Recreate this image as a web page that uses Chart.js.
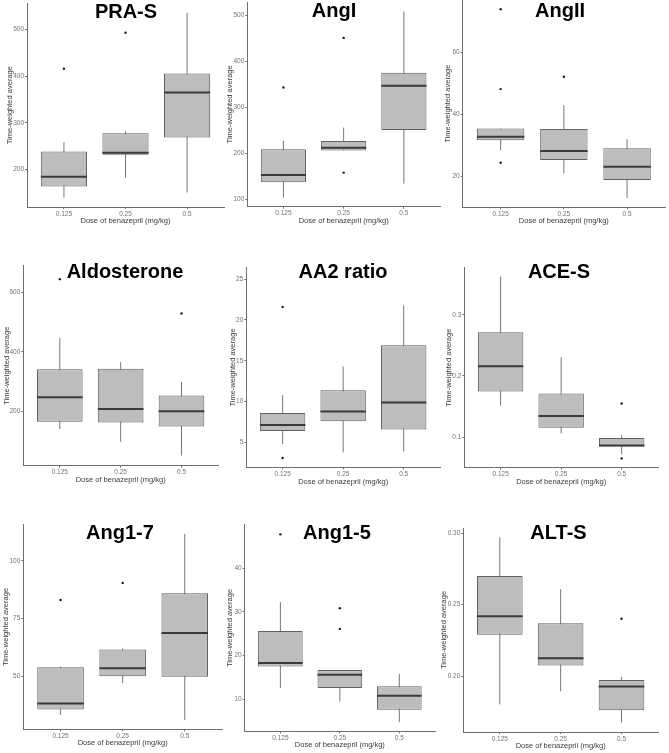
<!DOCTYPE html>
<html><head><meta charset="utf-8">
<script src="https://cdn.jsdelivr.net/npm/chart.js@4"></script>
<style>
html,body{margin:0;padding:0;background:#fff;}
body{width:669px;height:753px;position:relative;overflow:hidden;}
canvas{position:absolute;}
</style></head><body>
<script>
// ---------------- DATA ----------------
const doseLabels = ['0.125', '0.25', '0.5'];
const panelNames = ['PRA-S', 'AngI', 'AngII', 'Aldosterone', 'AA2 ratio', 'ACE-S', 'Ang1-7', 'Ang1-5', 'ALT-S'];

const whiskerLow = [
  [140, 183, 151], [104, 206, 134], [28.4, 21, 13],
  [142, 99, 53], [4.8, 3.8, 3.9], [0.1516, 0.106, 0.0717],
  [33.3, 47.1, 31.2], [12.6, 9.5, 4.8], [0.1803, 0.1894, 0.1675]
];
const q1 = [
  [164, 232, 269], [137, 206, 251], [31.7, 25.3, 18.8],
  [166, 163.5, 150], [6.4, 7.6, 6.6], [0.1745, 0.1152, 0.0848],
  [35.7, 50.1, 49.9], [17.5, 12.6, 7.6], [0.2289, 0.2074, 0.1762]
];
const median = [
  [185, 236, 365], [153, 212, 347], [32.8, 28.2, 23.1],
  [248, 209, 201], [7.15, 8.8, 9.9], [0.2158, 0.1347, 0.0864],
  [38.3, 53.5, 68.8], [18.3, 15.6, 10.8], [0.2419, 0.2125, 0.1928]
];
const q3 = [
  [239, 278, 406], [209, 227, 375], [35.5, 35.3, 29.1],
  [342, 344, 254], [8.6, 11.4, 16.9], [0.2716, 0.1713, 0.0984],
  [54, 61.7, 86], [25.6, 16.7, 13], [0.2699, 0.237, 0.1974]
];
const whiskerHigh = [
  [259, 282, 536], [227, 256, 508], [35.5, 43, 32],
  [446, 366, 300], [10.8, 14.3, 21.8], [0.3625, 0.2305, 0.103],
  [54.3, 62.2, 111.7], [32.2, 16.7, 15.8], [0.297, 0.2608, 0.1995]
];
const outliers = [
  [[416], [493], []], [[343], [158, 451], []], [[74, 48.2, 24.4], [52.2], []],
  [[644], [], [529]], [[21.6, 3.1], [], []], [[], [], [0.155, 0.065]],
  [[83.1], [90.5], []], [[47.7], [30.8, 26.1], []], [[], [], [0.2401]]
];
const yMin = [120, 84, 10, 19, 1.96, 0.050, 27.1, 2.7, 0.161];
const yMax = [556, 529, 77, 689, 26.4, 0.377, 115.7, 49.9, 0.3035];
const yTicks = [
  [200, 300, 400, 500], [100, 200, 300, 400, 500], [20, 40, 60],
  [200, 400, 600], [5, 10, 15, 20, 25], [0.1, 0.2, 0.3],
  [50, 75, 100], [10, 20, 30, 40], [0.20, 0.25, 0.30]
];
const yTickLabels = [
  ['200', '300', '400', '500'], ['100', '200', '300', '400', '500'], ['20', '40', '60'],
  ['200', '400', '600'], ['5', '10', '15', '20', '25'], ['0.1', '0.2', '0.3'],
  ['50', '75', '100'], ['10', '20', '30', '40'], ['0.20', '0.25', '0.30']
];
const xTitle = 'Dose of benazepril (mg/kg)';
const yTitle = 'Time-weighted average';

// ---------------- LAYOUT (page pixels) ----------------
const geom = [
  {L: 27,    R: 225, T: 3.3,   B: 207,   ytx: 9.5,   xty: 221,   tx: 126,   ty: 18.3},
  {L: 247.3, R: 441, T: 2,     B: 206.7, ytx: 230.3, xty: 220.7, tx: 334,   ty: 17.3},
  {L: 462.7, R: 666, T: 0,     B: 207.3, ytx: 448,   xty: 221,   tx: 560,   ty: 17.3},
  {L: 23.3,  R: 219, T: 265.7, B: 465.7, ytx: 6.5,   xty: 480.3, tx: 125,   ty: 277.7},
  {L: 246.3, R: 441, T: 267.7, B: 467.3, ytx: 233,   xty: 481.7, tx: 343,   ty: 277.7},
  {L: 464.3, R: 659, T: 267.7, B: 467.7, ytx: 448.5, xty: 481.7, tx: 559,   ty: 277.7},
  {L: 23.3,  R: 223, T: 524.7, B: 729.3, ytx: 6,     xty: 742.7, tx: 120,   ty: 538.7},
  {L: 244.7, R: 436, T: 524.7, B: 731.3, ytx: 229.7, xty: 745.3, tx: 337,   ty: 538.7},
  {L: 463.3, R: 659, T: 528,   B: 732,   ytx: 444,   xty: 746,   tx: 558.5, ty: 539}
];

const FAMILY = '"Liberation Sans", Arial, sans-serif';
const AXIS_COLOR = '#6e6e6e';
const TICK_COLOR = '#747474';
const LABEL_COLOR = '#3a3a3a';
const BOX_FILL = '#bdbdbd';
const BOX_LINE = '#616161';
const MEDIAN_COLOR = '#3a3a3a';
const WHISKER_COLOR = '#767676';
const BOX_HALF = 0.375;
const TITLE_SIZE = 7.5;

const titlePlugin = {
  id: 'panelTitle',
  afterDraw(chart, args, opts) {
    const ctx = chart.ctx;
    ctx.save();
    ctx.font = 'bold 20px ' + FAMILY;
    ctx.fillStyle = '#000';
    ctx.textAlign = 'center';
    ctx.textBaseline = 'alphabetic';
    ctx.fillText(opts.text, opts.x, opts.y);
    ctx.restore();
  }
};

panelNames.forEach((name, i) => {
  const g = geom[i];
  const half = TITLE_SIZE / 2;
  const cx = Math.floor(g.ytx - half) - 1;
  const cy = Math.floor(g.T) - 6;
  const cr = Math.ceil(g.R) + 3;
  const cb = Math.ceil(g.xty + half) + 2;
  const cw = cr - cx, ch = cb - cy;
  const canvas = document.createElement('canvas');
  canvas.width = cw; canvas.height = ch;
  canvas.style.left = cx + 'px'; canvas.style.top = cy + 'px';
  canvas.style.width = cw + 'px'; canvas.style.height = ch + 'px';
  document.body.appendChild(canvas);

  const boxPts = [], whiskerPts = [], medianPts = [], outlierPts = [];
  doseLabels.forEach((d, k) => {
    const x = k + 1;
    boxPts.push({x: x, y: [q1[i][k], q3[i][k]]});
    whiskerPts.push({x: x, y: whiskerLow[i][k]}, {x: x, y: whiskerHigh[i][k]}, {x: x, y: null});
    medianPts.push({x: x - BOX_HALF, y: median[i][k]}, {x: x + BOX_HALF, y: median[i][k]}, {x: x + BOX_HALF, y: null});
    outliers[i][k].forEach(v => outlierPts.push({x: x, y: v}));
  });

  const padL = (g.ytx - half) - cx;
  const padT = g.T - cy;
  const padR = cr - g.R;
  const padB = cb - (g.xty + half);

  new Chart(canvas, {
    type: 'bar',
    data: {
      datasets: [
        {type: 'line', data: medianPts, borderColor: MEDIAN_COLOR, borderWidth: 2, pointRadius: 0, spanGaps: false, order: 0},
        {type: 'scatter', data: outlierPts, pointRadius: 1.2, backgroundColor: '#1a1a1a', borderWidth: 0, order: 1},
        {type: 'bar', data: boxPts, backgroundColor: BOX_FILL, borderColor: BOX_LINE, borderWidth: 1,
         borderSkipped: false, barPercentage: 0.75, categoryPercentage: 1, order: 2},
        {type: 'line', data: whiskerPts, borderColor: WHISKER_COLOR, borderWidth: 1, pointRadius: 0, spanGaps: false, order: 3}
      ]
    },
    options: {
      responsive: false, animation: false, events: [], devicePixelRatio: 1,
      layout: {padding: {left: padL, top: padT, right: padR, bottom: padB}},
      plugins: {
        legend: {display: false}, tooltip: {enabled: false}, title: {display: false},
        panelTitle: {text: name, x: g.tx - cx, y: g.ty - cy}
      },
      scales: {
        x: {
          type: 'linear', min: 0.4, max: 3.6, offset: false,
          grid: {display: true, offset: false, drawOnChartArea: false, tickLength: 2, color: AXIS_COLOR, lineWidth: 1},
          border: {display: true, color: AXIS_COLOR, width: 1},
          ticks: {font: {size: 6.5, family: FAMILY}, color: TICK_COLOR, padding: 1, maxRotation: 0, autoSkip: false,
                  callback: (v, idx) => doseLabels[idx]},
          afterBuildTicks: s => { s.ticks = doseLabels.map((d, k) => ({value: k + 1})); },
          afterFit: s => { s.height = (g.xty + half) - g.B; },
          title: {display: true, text: xTitle, color: LABEL_COLOR, padding: 0,
                  font: {size: TITLE_SIZE, lineHeight: 1, family: FAMILY}}
        },
        y: {
          type: 'linear', min: yMin[i], max: yMax[i], beginAtZero: false,
          grid: {display: true, drawOnChartArea: false, tickLength: 2, color: AXIS_COLOR, lineWidth: 1},
          border: {display: true, color: AXIS_COLOR, width: 1},
          ticks: {font: {size: 6.5, family: FAMILY}, color: TICK_COLOR, padding: 1,
                  callback: (v, idx) => yTickLabels[i][idx]},
          afterBuildTicks: s => { s.ticks = yTicks[i].map(v => ({value: v})); },
          afterFit: s => { s.width = g.L - (g.ytx - half); },
          title: {display: true, text: yTitle, color: LABEL_COLOR, padding: 0,
                  font: {size: TITLE_SIZE, lineHeight: 1, family: FAMILY}}
        }
      }
    },
    plugins: [titlePlugin]
  });
});
</script>
</body></html>
